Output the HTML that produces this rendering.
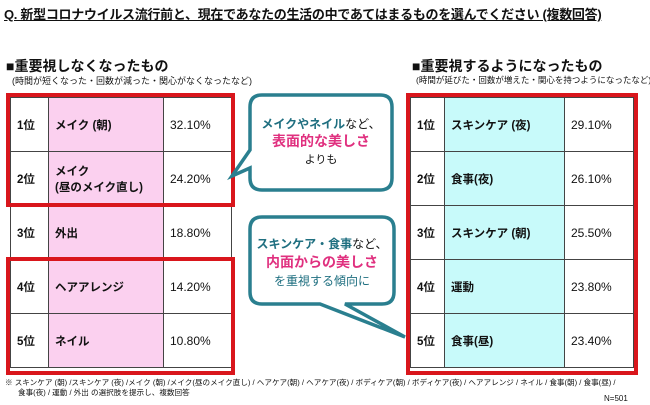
<!DOCTYPE html>
<html><head><meta charset="utf-8"><style>
body{margin:0;width:650px;height:405px;background:#fff;font-family:"Liberation Sans","Noto Sans CJK JP",sans-serif;position:relative;overflow:hidden;color:#111}
.a{position:absolute;white-space:nowrap}
table{position:absolute;border-collapse:collapse;font-size:11.5px;font-weight:bold}
td{border:1px solid #444;height:54px;padding:0 0 0 6px;box-sizing:border-box}
td.p{font-weight:normal;font-size:12px}
.box{position:absolute;border:4px solid #d9161c;box-sizing:border-box}
</style></head><body>
<div class="a" style="left:4px;top:4px;font-size:13px;font-weight:bold;text-decoration:underline;letter-spacing:-0.3px">Q. 新型コロナウイルス流行前と、現在であなたの生活の中であてはまるものを選んでください (複数回答)</div>
<div class="a" style="left:6px;top:56px;font-size:14px;font-weight:bold">■重要視しなくなったもの</div>
<div class="a" style="left:12px;top:74px;font-size:9px">(時間が短くなった・回数が減った・関心がなくなったなど)</div>
<div class="a" style="left:412px;top:56px;font-size:14px;font-weight:bold">■重要視するようになったもの</div>
<div class="a" style="left:416px;top:74px;font-size:8.5px">(時間が延びた・回数が増えた・関心を持つようになったなど)</div>

<table style="left:10px;top:97px;width:222px">
<tr><td style="width:38px">1位</td><td style="width:115px;background:#fbd0ef">メイク (朝)</td><td class="p">32.10%</td></tr>
<tr><td>2位</td><td style="background:#fbd0ef">メイク<br>(昼のメイク直し)</td><td class="p">24.20%</td></tr>
<tr><td>3位</td><td style="background:#fbd0ef">外出</td><td class="p">18.80%</td></tr>
<tr><td>4位</td><td style="background:#fbd0ef">ヘアアレンジ</td><td class="p">14.20%</td></tr>
<tr><td>5位</td><td style="background:#fbd0ef">ネイル</td><td class="p">10.80%</td></tr>
</table>
<div class="box" style="left:6px;top:93px;width:229px;height:114px"></div>
<div class="box" style="left:6px;top:257px;width:229px;height:118px"></div>

<table style="left:410px;top:97px;width:224px">
<tr><td style="width:34px">1位</td><td style="width:120px;background:#c8fafa">スキンケア (夜)</td><td class="p">29.10%</td></tr>
<tr><td>2位</td><td style="background:#c8fafa">食事(夜)</td><td class="p">26.10%</td></tr>
<tr><td>3位</td><td style="background:#c8fafa">スキンケア (朝)</td><td class="p">25.50%</td></tr>
<tr><td>4位</td><td style="background:#c8fafa">運動</td><td class="p">23.80%</td></tr>
<tr><td>5位</td><td style="background:#c8fafa">食事(昼)</td><td class="p">23.40%</td></tr>
</table>
<div class="box" style="left:406px;top:93px;width:232px;height:282px"></div>

<svg class="a" style="left:0;top:0" width="650" height="405">
<path d="M262,95 H380 Q392,95 392,107 V178 Q392,190 380,190 H262 Q250,190 250,178 V168 L232,176 L250,150 V107 Q250,95 262,95 Z" fill="#fff" stroke="#2a7f8f" stroke-width="3.5"/>
<path d="M262,217 H382 Q394,217 394,229 V292 Q394,304 382,304 H345 L405,337 L320,304 H262 Q250,304 250,292 V229 Q250,217 262,217 Z" fill="#fff" stroke="#2a7f8f" stroke-width="3.5"/>
</svg>
<div class="a" style="left:250px;top:116px;width:142px;text-align:center;font-size:12px;line-height:17px">
<b style="color:#1f6f80">メイクやネイル</b>など、<br><b style="color:#e0307f;font-size:14px">表面的な美しさ</b><br><span style="font-size:11px">よりも</span></div>
<div class="a" style="left:250px;top:235px;width:144px;text-align:center;font-size:12px;line-height:18px">
<b style="color:#1f6f80">スキンケア・食事</b>など、<br><b style="color:#e0307f;font-size:14px">内面からの美しさ</b><br><span style="color:#1f6f80">を重視する傾向に</span></div>

<div class="a" style="left:5px;top:377px;font-size:7.6px">※ スキンケア (朝) /スキンケア (夜) /メイク (朝) /メイク(昼のメイク直し) / ヘアケア(朝) / ヘアケア(夜) / ボディケア(朝) / ボディケア(夜) / ヘアアレンジ / ネイル / 食事(朝) / 食事(昼) /</div>
<div class="a" style="left:18px;top:387px;font-size:7.6px">食事(夜) / 運動 / 外出 の選択肢を提示し、複数回答</div>
<div class="a" style="left:604px;top:394px;font-size:8px">N=501</div>
</body></html>
